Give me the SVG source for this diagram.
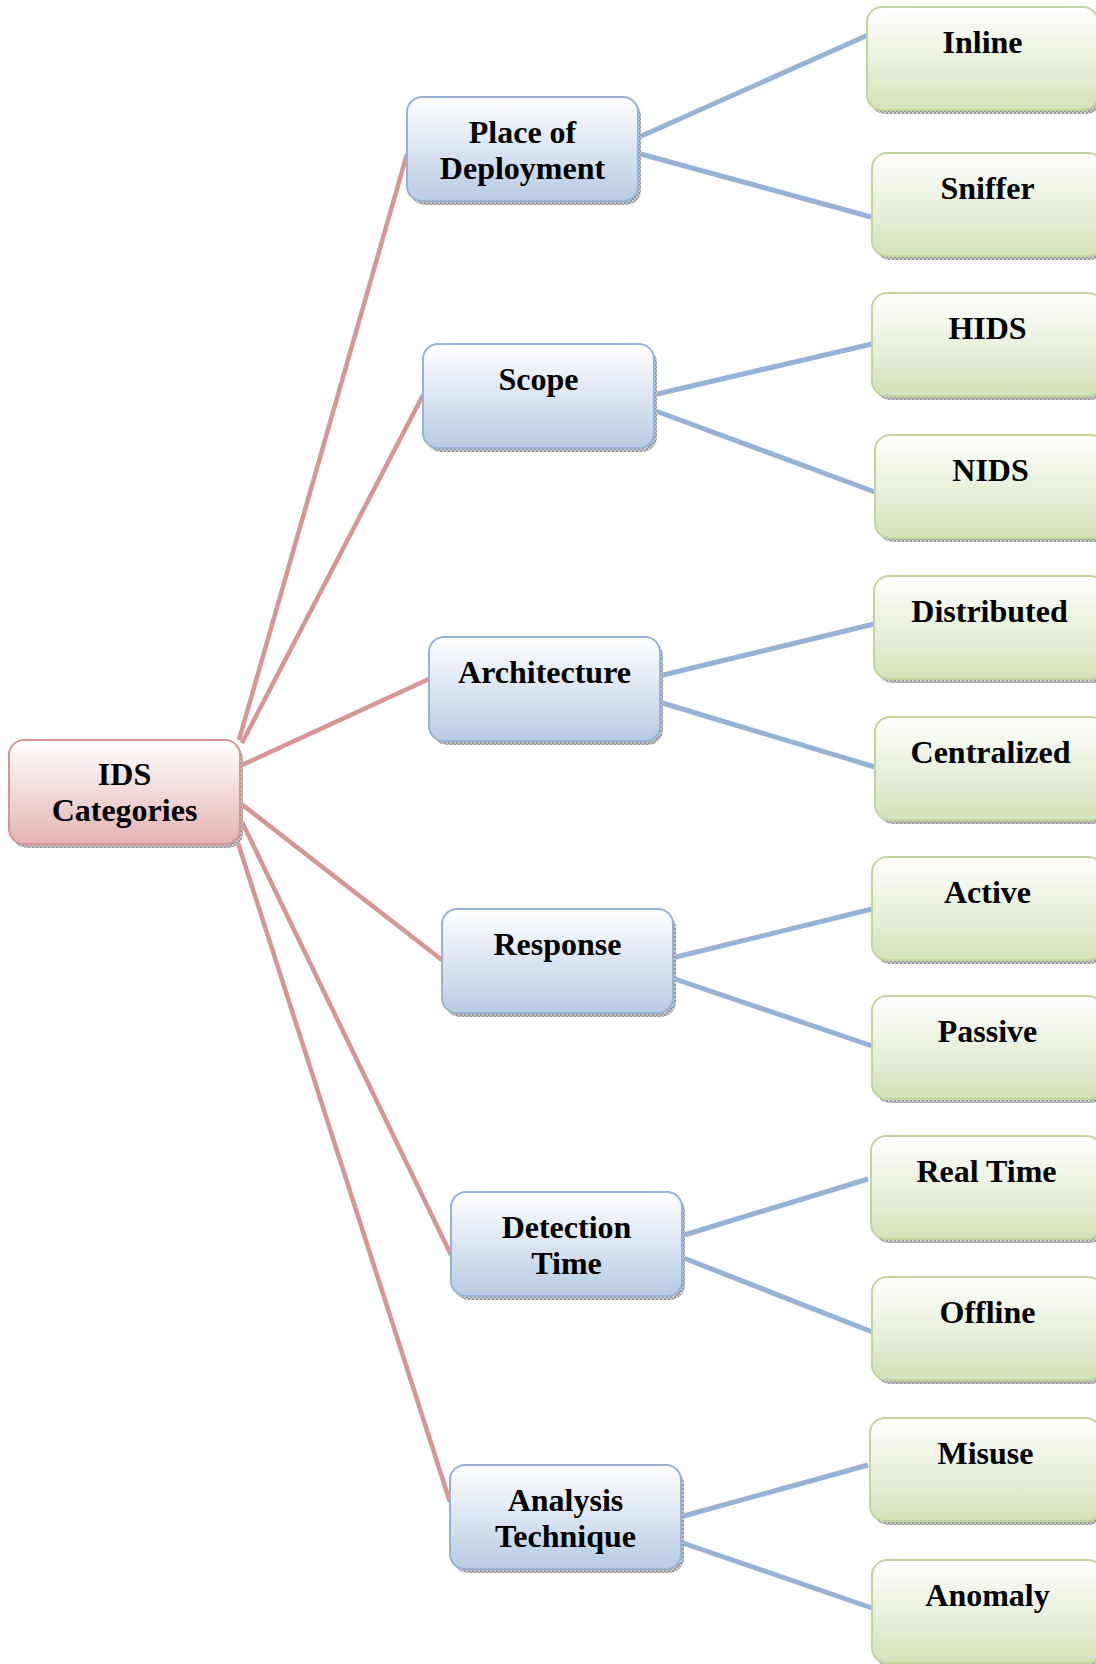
<svg xmlns="http://www.w3.org/2000/svg" width="1096" height="1664" viewBox="0 0 1096 1664">
  <defs>
    <linearGradient id="gRed" x1="0" y1="0" x2="0" y2="1">
      <stop offset="0" stop-color="#ffffff"/>
      <stop offset="1" stop-color="#e3b3b2"/>
    </linearGradient>
    <linearGradient id="gBlue" x1="0" y1="0" x2="0" y2="1">
      <stop offset="0" stop-color="#ffffff"/>
      <stop offset="1" stop-color="#b7cbe4"/>
    </linearGradient>
    <linearGradient id="gGreen" x1="0" y1="0" x2="0" y2="1">
      <stop offset="0" stop-color="#ffffff"/>
      <stop offset="1" stop-color="#d4e2b9"/>
    </linearGradient>
    <pattern id="hatch" width="4" height="4" patternUnits="userSpaceOnUse">
      <rect width="4" height="4" fill="#9a9a9a"/>
      <rect width="2" height="2" fill="#d0d0d0"/>
      <rect x="2" y="2" width="2" height="2" fill="#c4c4c4"/>
    </pattern>
  </defs>
  <style>
    .shadow { fill: url(#hatch); }
    .red { fill: url(#gRed); stroke: #d99594; stroke-width: 2; }
    .blue { fill: url(#gBlue); stroke: #95b3d7; stroke-width: 2; }
    .green { fill: url(#gGreen); stroke: #c2d69b; stroke-width: 2; }
    .lbl { font-family: "Liberation Serif", "Times New Roman", serif; font-weight: bold; font-size: 32px; fill: #000; text-anchor: middle; }
    .lr { stroke: #d99594; stroke-width: 4.5; fill: none; }
    .lb { stroke: #95b3d7; stroke-width: 5; fill: none; }
  </style>

  <rect width="1096" height="1664" fill="#ffffff"/>

  <!-- connectors -->
  <g id="connectors">
    <line class="lr" x1="239" y1="740" x2="407" y2="154"/>
    <line class="lr" x1="242" y1="743" x2="423" y2="395"/>
    <line class="lr" x1="240" y1="766" x2="429" y2="679"/>
    <line class="lr" x1="240" y1="803" x2="442" y2="960"/>
    <line class="lr" x1="242" y1="822" x2="451" y2="1255"/>
    <line class="lr" x1="238" y1="843" x2="450" y2="1502"/>

    <line class="lb" x1="637" y1="138" x2="868" y2="35"/>
    <line class="lb" x1="637" y1="153" x2="875" y2="218"/>
    <line class="lb" x1="653" y1="395" x2="872" y2="344"/>
    <line class="lb" x1="653" y1="410" x2="875" y2="492"/>
    <line class="lb" x1="659" y1="676" x2="874" y2="624"/>
    <line class="lb" x1="659" y1="702" x2="875" y2="767"/>
    <line class="lb" x1="672" y1="958" x2="872" y2="909"/>
    <line class="lb" x1="672" y1="978" x2="875" y2="1047"/>
    <line class="lb" x1="681" y1="1236" x2="868" y2="1179"/>
    <line class="lb" x1="681" y1="1257" x2="875" y2="1333"/>
    <line class="lb" x1="680" y1="1517" x2="868" y2="1465"/>
    <line class="lb" x1="680" y1="1542" x2="872" y2="1608"/>
  </g>

  <!-- root -->
  <g id="ids-categories">
    <rect class="shadow" x="12" y="744" width="231" height="104" rx="15"/>
    <rect class="red" x="9" y="740" width="231" height="104" rx="15"/>
    <text class="lbl" x="124.5" y="785">IDS</text>
    <text class="lbl" x="124.5" y="821">Categories</text>
  </g>

  <!-- categories -->
  <g id="place-of-deployment">
    <rect class="shadow" x="410" y="101" width="231" height="104" rx="15"/>
    <rect class="blue" x="407" y="97" width="231" height="104" rx="15"/>
    <text class="lbl" x="522.5" y="143">Place of</text>
    <text class="lbl" x="522.5" y="179">Deployment</text>
  </g>
  <g id="scope">
    <rect class="shadow" x="426" y="348" width="231" height="104" rx="15"/>
    <rect class="blue" x="423" y="344" width="231" height="104" rx="15"/>
    <text class="lbl" x="538.5" y="390">Scope</text>
  </g>
  <g id="architecture">
    <rect class="shadow" x="432" y="641" width="231" height="104" rx="15"/>
    <rect class="blue" x="429" y="637" width="231" height="104" rx="15"/>
    <text class="lbl" x="544.5" y="683">Architecture</text>
  </g>
  <g id="response">
    <rect class="shadow" x="445" y="913" width="231" height="104" rx="15"/>
    <rect class="blue" x="442" y="909" width="231" height="104" rx="15"/>
    <text class="lbl" x="557.5" y="955">Response</text>
  </g>
  <g id="detection-time">
    <rect class="shadow" x="454" y="1196" width="231" height="104" rx="15"/>
    <rect class="blue" x="451" y="1192" width="231" height="104" rx="15"/>
    <text class="lbl" x="566.5" y="1238">Detection</text>
    <text class="lbl" x="566.5" y="1274">Time</text>
  </g>
  <g id="analysis-technique">
    <rect class="shadow" x="453" y="1469" width="231" height="104" rx="15"/>
    <rect class="blue" x="450" y="1465" width="231" height="104" rx="15"/>
    <text class="lbl" x="565.5" y="1511">Analysis</text>
    <text class="lbl" x="565.5" y="1547">Technique</text>
  </g>

  <!-- leaves -->
  <g id="inline">
    <rect class="shadow" x="870" y="11" width="231" height="103" rx="15"/>
    <rect class="green" x="867" y="7" width="231" height="103" rx="15"/>
    <text class="lbl" x="982.5" y="53">Inline</text>
  </g>
  <g id="sniffer">
    <rect class="shadow" x="875" y="157" width="231" height="103" rx="15"/>
    <rect class="green" x="872" y="153" width="231" height="103" rx="15"/>
    <text class="lbl" x="987.5" y="199">Sniffer</text>
  </g>
  <g id="hids">
    <rect class="shadow" x="875" y="297" width="231" height="103" rx="15"/>
    <rect class="green" x="872" y="293" width="231" height="103" rx="15"/>
    <text class="lbl" x="987.5" y="339">HIDS</text>
  </g>
  <g id="nids">
    <rect class="shadow" x="878" y="439" width="231" height="103" rx="15"/>
    <rect class="green" x="875" y="435" width="231" height="103" rx="15"/>
    <text class="lbl" x="990.5" y="481">NIDS</text>
  </g>
  <g id="distributed">
    <rect class="shadow" x="877" y="580" width="231" height="103" rx="15"/>
    <rect class="green" x="874" y="576" width="231" height="103" rx="15"/>
    <text class="lbl" x="989.5" y="622">Distributed</text>
  </g>
  <g id="centralized">
    <rect class="shadow" x="878" y="721" width="231" height="103" rx="15"/>
    <rect class="green" x="875" y="717" width="231" height="103" rx="15"/>
    <text class="lbl" x="990.5" y="763">Centralized</text>
  </g>
  <g id="active">
    <rect class="shadow" x="875" y="861" width="231" height="103" rx="15"/>
    <rect class="green" x="872" y="857" width="231" height="103" rx="15"/>
    <text class="lbl" x="987.5" y="903">Active</text>
  </g>
  <g id="passive">
    <rect class="shadow" x="875" y="1000" width="231" height="103" rx="15"/>
    <rect class="green" x="872" y="996" width="231" height="103" rx="15"/>
    <text class="lbl" x="987.5" y="1042">Passive</text>
  </g>
  <g id="real-time">
    <rect class="shadow" x="874" y="1140" width="231" height="103" rx="15"/>
    <rect class="green" x="871" y="1136" width="231" height="103" rx="15"/>
    <text class="lbl" x="986.5" y="1182">Real Time</text>
  </g>
  <g id="offline">
    <rect class="shadow" x="875" y="1281" width="231" height="103" rx="15"/>
    <rect class="green" x="872" y="1277" width="231" height="103" rx="15"/>
    <text class="lbl" x="987.5" y="1323">Offline</text>
  </g>
  <g id="misuse">
    <rect class="shadow" x="873" y="1422" width="231" height="103" rx="15"/>
    <rect class="green" x="870" y="1418" width="231" height="103" rx="15"/>
    <text class="lbl" x="985.5" y="1464">Misuse</text>
  </g>
  <g id="anomaly">
    <rect class="shadow" x="875" y="1564" width="231" height="103" rx="15"/>
    <rect class="green" x="872" y="1560" width="231" height="103" rx="15"/>
    <text class="lbl" x="987.5" y="1606">Anomaly</text>
  </g>
</svg>
